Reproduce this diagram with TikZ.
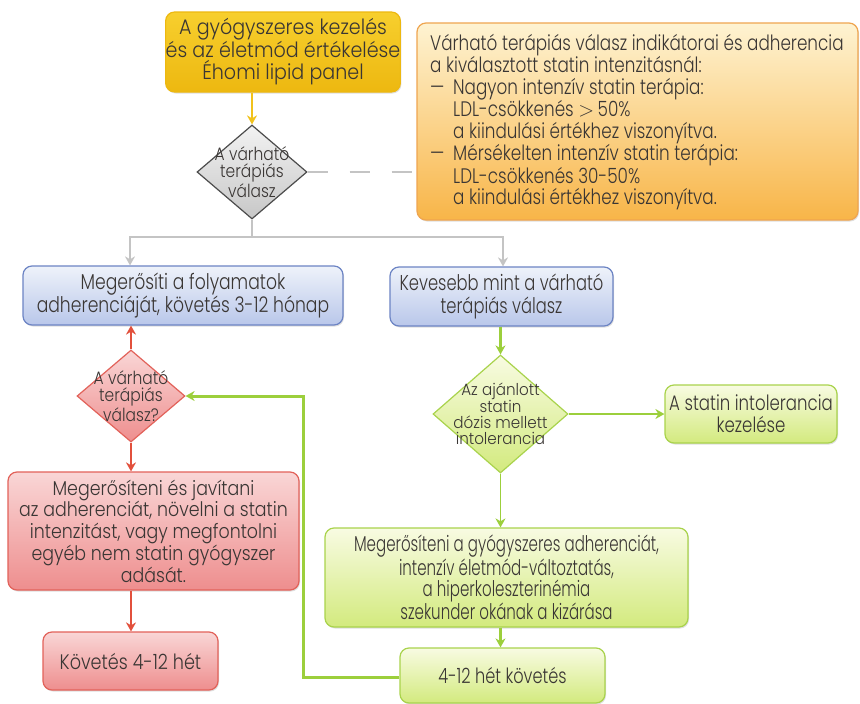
\documentclass[tikz,border=0pt]{standalone}
\usepackage{fontspec}
\setmainfont{Poppins Light}
\newfontfamily\fY{Poppins Light}[FakeStretch=0.91]
\newfontfamily\fBL{Poppins Light}[FakeStretch=0.80]
\newfontfamily\fBR{Poppins Light}[FakeStretch=0.76]
\newfontfamily\fR{Poppins Light}[FakeStretch=0.87]
\newfontfamily\fK{Poppins Light}[FakeStretch=0.84]
\newfontfamily\fG{Poppins Light}[FakeStretch=0.70]
\newfontfamily\fS{Poppins Light}[FakeStretch=0.79]
\newfontfamily\fSG{Poppins Light}[FakeStretch=0.77]
\newfontfamily\fO{Poppins Light}[FakeStretch=0.80]
\newfontfamily\fD{Poppins Light}[FakeStretch=0.86]
\newfontfamily\fGD{Poppins Light}[FakeStretch=0.93]
\usetikzlibrary{arrows.meta,shapes.geometric,shadows}
\definecolor{txt}{HTML}{3A3634}
\definecolor{ytop}{HTML}{F7CF2E}\definecolor{ybot}{HTML}{EDB810}
\definecolor{otop}{HTML}{FEF3D2}\definecolor{obot}{HTML}{F8B548}\definecolor{obrd}{HTML}{EFA550}
\definecolor{btop}{HTML}{EEF2FA}\definecolor{bbot}{HTML}{B9C7EA}\definecolor{bbrd}{HTML}{6C84C4}
\definecolor{rtop}{HTML}{F9D6D6}\definecolor{rbot}{HTML}{EE8E8E}\definecolor{rbrd}{HTML}{E2625A}
\definecolor{gtop}{HTML}{F8FBE2}\definecolor{gbot}{HTML}{D3EA7E}\definecolor{gbrd}{HTML}{A9D34C}
\definecolor{arrgray}{HTML}{C4C4C4}\definecolor{arrred}{HTML}{E2503C}
\definecolor{arrgreen}{HTML}{9CCF3C}\definecolor{arryel}{HTML}{F1C21C}
\begin{document}
\begin{tikzpicture}[x=1pt,y=-1pt,
  box/.style={rectangle,rounded corners=9pt,inner sep=0pt,text=txt,align=center,
    line width=1.2pt,
    drop shadow={opacity=0.25,shadow xshift=1pt,shadow yshift=-1.5pt}},
  yellowbox/.style={box,top color=ytop,bottom color=ybot,draw=ybot,text=txt},
  orangebox/.style={box,top color=otop,bottom color=obot,draw=obrd},
  bluebox/.style={box,top color=btop,bottom color=bbot,draw=bbrd},
  redbox/.style={box,top color=rtop,bottom color=rbot,draw=rbrd},
  greenbox/.style={box,top color=gtop,bottom color=gbot,draw=gbrd},
  dia/.style={diamond,inner sep=0pt,line width=1.2pt},
  diatext/.style={align=center,text=txt,inner sep=0pt},
  garr/.style={draw=arrgray,line width=2pt},
  rarr/.style={draw=arrred,line width=2.4pt},
  grarr/.style={draw=arrgreen,line width=2.4pt},
  tip/.style={-{Stealth[length=9pt,width=10pt]}}
]
\useasboundingbox (0,0) rectangle (860,704);
\fill[white] (0,0) rectangle (860,704);

% nodes
\node[yellowbox,minimum width=220,minimum height=80,font=\fY\fontsize{21}{22.5}\selectfont] (yb) at (283,52)
  {A gyógyszeres kezelés\\és az életmód értékelése\\Éhomi lipid panel};
\node[orangebox,minimum width=441,minimum height=197] (ob) at (637.5,121.5) {};
\node[anchor=west,align=left,text=txt,inner sep=0pt,font=\fO\fontsize{21}{21.4}\selectfont] (obt) at (430,122)
  {Várható terápiás válasz indikátorai és adherencia\\
   a kiválasztott statin intenzitásnál:\\
   \makebox[23pt][l]{—}Nagyon intenzív statin terápia:\\
   \hspace*{23pt}LDL-csökkenés $>$\,50\%\\
   \hspace*{23pt}a kiindulási értékhez viszonyítva.\\
   \makebox[23pt][l]{—}Mérsékelten intenzív statin terápia:\\
   \hspace*{23pt}LDL-csökkenés 30-50\%\\
   \hspace*{23pt}a kiindulási értékhez viszonyítva.};

\node[dia,draw=black!70,top color=white!95!black,bottom color=black!22,minimum width=110,minimum height=94] (gd) at (252,172) {};
\node[diatext,font=\fD\fontsize{18}{16.7}\selectfont] at (gd.center) {A várható\\terápiás\\válasz};

\node[bluebox,minimum width=320,minimum height=59,font=\fBL\fontsize{21.5}{23}\selectfont] (bl) at (183,295.5)
  {Megerősíti a folyamatok\\adherenciáját, követés 3-12 hónap};
\node[bluebox,minimum width=223,minimum height=59,font=\fBR\fontsize{21.5}{23}\selectfont] (br) at (501.5,296.5)
  {Kevesebb mint a várható\\terápiás válasz};

\node[dia,draw=rbrd,top color=rtop,bottom color=rbot,minimum width=108,minimum height=92] (rd) at (131,396) {};
\node[diatext,font=\fD\fontsize{18}{16.7}\selectfont] at (rd.center) {A várható\\terápiás\\válasz?};

\node[redbox,minimum width=291,minimum height=118,font=\fR\fontsize{20}{21.7}\selectfont] (rb) at (153.5,531)
  {Megerősíteni és javítani\\az adherenciát, növelni a statin\\intenzitást, vagy megfontolni\\egyéb nem statin gyógyszer\\adását.};
\node[redbox,minimum width=175,minimum height=58,font=\fK\fontsize{21}{22}\selectfont] (kb) at (130.5,661) {Követés 4-12 hét};

\node[dia,draw=gbrd,top color=gtop,bottom color=gbot,minimum width=135,minimum height=118] (gnd) at (500.5,414) {};
\node[diatext,font=\fGD\fontsize{16.3}{16}\selectfont] at (gnd.center) {Az ajánlott\\statin\\dózis mellett\\intolerancia};

\node[greenbox,minimum width=172,minimum height=58,font=\fS\fontsize{21}{22}\selectfont] (sb) at (751,414) {A statin intolerancia\\kezelése};
\node[greenbox,minimum width=363,minimum height=99,font=\fG\fontsize{21.5}{21.7}\selectfont] (bg) at (506.5,577.5)
  {Megerősíteni a gyógyszeres adherenciát,\\intenzív életmód-változtatás,\\a hiperkoleszterinémia\\szekunder okának a kizárása};
\node[greenbox,minimum width=205,minimum height=55,font=\fSG\fontsize{21}{22}\selectfont] (sg) at (502.5,675.5) {4-12 hét követés};

% connectors
\coordinate (split) at (252,237);
\coordinate (jl) at (130,237);
\coordinate (jr) at (503,237);
\coordinate (lp1) at (303,677);
\coordinate (lp2) at (303,396);

\draw[draw=arryel,line width=2.4pt,tip] (gd.north |- yb.south) -- (gd.north);
\draw[garr,dash pattern=on 20pt off 22pt] (gd.east) -- (ob.west |- gd.east);
\draw[garr] (gd.south) -- (split);
\draw[garr,tip] (split) -- (jl) -- (jl |- bl.north);
\draw[garr,tip] (split) -- (jr) -- (jr |- br.north);

\draw[rarr,tip] (rd.north) -- (rd.north |- bl.south);
\draw[rarr,tip] (rd.south) -- (rd.south |- rb.north);
\draw[rarr,tip] (rd.south |- rb.south) -- (rd.south |- kb.north);

\draw[grarr,tip] (gnd.north |- br.south) -- (gnd.north);
\draw[draw=arrgreen,line width=1.5pt,tip] (gnd.east) -- (sb.west);
\draw[draw=arrgreen,line width=1.5pt,tip] (gnd.south) -- (gnd.south |- bg.north);
\draw[grarr,tip] (gnd.south |- bg.south) -- (gnd.south |- sg.north);
\draw[grarr,line width=3pt,tip] (sg.west |- lp1) -- (lp1) -- (lp2) -- (rd.east);
\end{tikzpicture}
\end{document}
